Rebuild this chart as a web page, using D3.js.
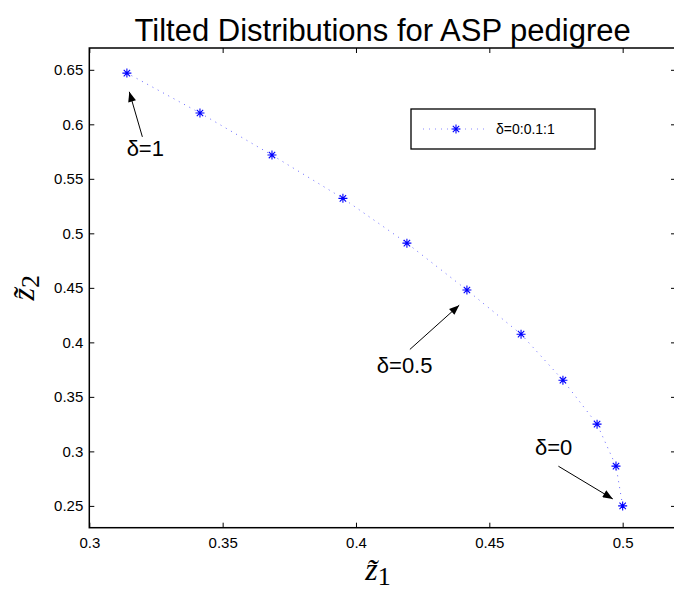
<!DOCTYPE html>
<html>
<head>
<meta charset="utf-8">
<script src="https://cdnjs.cloudflare.com/ajax/libs/d3/7.8.5/d3.min.js"></script>
<style>
  body { margin: 0; background: #fff; }
  svg { display: block; font-family: "Liberation Sans", Arial, Helvetica, sans-serif; }
</style>
</head>
<body>
<div id="graph"></div>
<script>
'use strict';

// tilt parameter delta = 0:0.1:1
const delta = [0, 0.1, 0.2, 0.3, 0.4, 0.5, 0.6, 0.7, 0.8, 0.9, 1];
const z1 = [0.500, 0.4975, 0.4904, 0.4776, 0.4619, 0.4416, 0.4191, 0.3951, 0.3685, 0.3415, 0.3141];
const z2 = [0.250, 0.2865, 0.325, 0.3653, 0.4075, 0.448, 0.491, 0.5321, 0.5718, 0.6104, 0.647];

const xTicks = [0.3, 0.35, 0.4, 0.45, 0.5];
const yTicks = [0.25, 0.3, 0.35, 0.4, 0.45, 0.5, 0.55, 0.6, 0.65];

// annotation arrows, in data units: text anchor, arrow tail, arrow head
const notes = [
    { label: 'δ=1',   tx: 0.314,  ty: 0.5705, x0: 0.3199, y0: 0.5885, x1: 0.3150, y1: 0.6298 },
    { label: 'δ=0.5', tx: 0.4078, ty: 0.3717, x0: 0.4202, y0: 0.3935, x1: 0.4387, y1: 0.4341 },
    { label: 'δ=0',   tx: 0.4671, ty: 0.2965, x0: 0.4759, y0: 0.2864, x1: 0.4963, y1: 0.2564 }
];

const measurements = { width: 674, height: 592 };
const plot = { left: 89.3, right: 676, top: 48, bottom: 527.7 };

const svg = d3.select('#graph')
    .append('svg')
    .attr('width', measurements.width)
    .attr('height', measurements.height);

const xScale = d3.scaleLinear().domain([0.3, 0.52]).range([plot.left, plot.right]);
const yScale = d3.scaleLinear().domain([0.23, 0.67]).range([plot.bottom, plot.top]);

const defs = svg.append('defs');
defs.append('marker')
    .attr('id', 'head')
    .attr('viewBox', '0 0 10 8')
    .attr('refX', 10)
    .attr('refY', 4)
    .attr('markerWidth', 11)
    .attr('markerHeight', 8)
    .attr('markerUnits', 'userSpaceOnUse')
    .attr('orient', 'auto')
    .append('path')
    .attr('d', 'M0,0L10,4L0,8Z')
    .attr('fill', '#000');

// axes: bottom/left with labels, top/right ticks only
const tickLen = 5;
const axisB = d3.axisBottom(xScale).tickValues(xTicks).tickSizeInner(-tickLen).tickSizeOuter(0).tickPadding(10)
    .tickFormat(d3.format('~g'));
const axisT = d3.axisTop(xScale).tickValues(xTicks).tickSizeInner(-tickLen).tickSizeOuter(0).tickFormat('');
const axisL = d3.axisLeft(yScale).tickValues(yTicks).tickSizeInner(-tickLen).tickSizeOuter(0).tickPadding(6)
    .tickFormat(d3.format('~g'));
const axisR = d3.axisRight(yScale).tickValues(yTicks).tickSizeInner(-tickLen).tickSizeOuter(0).tickFormat('');

function styleAxis(g) {
    g.select('.domain').remove();
    g.selectAll('line').attr('stroke', '#000').attr('stroke-width', 1);
    g.selectAll('text').attr('fill', '#000').style('font-size', '15px')
        .style('font-family', '"Liberation Sans", Arial, sans-serif');
}

svg.append('g').attr('transform', 'translate(0,' + plot.bottom + ')').call(axisB).call(styleAxis);
svg.append('g').attr('transform', 'translate(0,' + plot.top + ')').call(axisT).call(styleAxis);
svg.append('g').attr('transform', 'translate(' + plot.left + ',0)').call(axisL).call(styleAxis);
svg.append('g').attr('transform', 'translate(' + plot.right + ',0)').call(axisR).call(styleAxis);

// box
svg.append('rect')
    .attr('x', plot.left).attr('y', plot.top)
    .attr('width', plot.right - plot.left).attr('height', plot.bottom - plot.top)
    .attr('fill', 'none').attr('stroke', '#000').attr('stroke-width', 1.5);

// data
const pts = delta.map((d, i) => ({ d: d, x: z1[i], y: z2[i] }));

const line = d3.line().x(d => xScale(d.x)).y(d => yScale(d.y));
svg.append('path')
    .datum(pts)
    .attr('d', line)
    .attr('fill', 'none')
    .attr('stroke', '#6666ff')
    .attr('stroke-width', 1)
    .attr('stroke-dasharray', '1,5');

const star = 'M-4.5,0L4.5,0M0,-4.5L0,4.5M-3.2,-3.2L3.2,3.2M-3.2,3.2L3.2,-3.2';
svg.selectAll('.star')
    .data(pts)
    .enter()
    .append('path')
    .attr('class', 'star')
    .attr('transform', d => 'translate(' + xScale(d.x) + ',' + yScale(d.y) + ')')
    .attr('d', star)
    .attr('fill', 'none')
    .attr('stroke', '#0000ff')
    .attr('stroke-width', 1.1);

// annotations
svg.selectAll('.arrow')
    .data(notes)
    .enter()
    .append('line')
    .attr('class', 'arrow')
    .attr('x1', d => xScale(d.x0)).attr('y1', d => yScale(d.y0))
    .attr('x2', d => xScale(d.x1)).attr('y2', d => yScale(d.y1))
    .attr('stroke', '#000')
    .attr('stroke-width', 1)
    .attr('marker-end', 'url(#head)');

svg.selectAll('.note')
    .data(notes)
    .enter()
    .append('text')
    .attr('class', 'note')
    .attr('x', d => xScale(d.tx))
    .attr('y', d => yScale(d.ty))
    .style('font-size', '22px')
    .text(d => d.label);

// legend
const leg = svg.append('g');
leg.append('rect')
    .attr('x', 411).attr('y', 109)
    .attr('width', 184).attr('height', 40)
    .attr('fill', '#fff').attr('stroke', '#000').attr('stroke-width', 1.3);
leg.append('line')
    .attr('x1', 423).attr('x2', 486).attr('y1', 129).attr('y2', 129)
    .attr('stroke', '#8888ff').attr('stroke-width', 1).attr('stroke-dasharray', '1,5');
leg.append('path')
    .attr('transform', 'translate(456,129)')
    .attr('d', star)
    .attr('fill', 'none').attr('stroke', '#0000ff').attr('stroke-width', 1.1);
leg.append('text')
    .attr('x', 496).attr('y', 134)
    .style('font-size', '14px')
    .text('δ=0:0.1:1');

// title and axis labels
svg.append('text')
    .attr('x', (plot.left + plot.right) / 2)
    .attr('y', 41)
    .attr('text-anchor', 'middle')
    .style('font-size', '31px')
    .text('Tilted Distributions for ASP pedigree');

const xl = svg.append('text')
    .attr('x', 378)
    .attr('y', 580)
    .attr('text-anchor', 'middle')
    .style('font-family', '"Liberation Serif", "DejaVu Serif", serif')
    .style('font-size', '32px');
xl.append('tspan').style('font-style', 'italic').text('z\u0303');
xl.append('tspan').attr('dy', 5).style('font-size', '26px').text('1');

const yl = svg.append('text')
    .attr('transform', 'translate(34,' + ((plot.top + plot.bottom) / 2) + ')rotate(-90)')
    .attr('text-anchor', 'middle')
    .style('font-family', '"Liberation Serif", "DejaVu Serif", serif')
    .style('font-size', '32px');
yl.append('tspan').style('font-style', 'italic').text('z\u0303');
yl.append('tspan').attr('dy', 5).style('font-size', '26px').text('2');
</script>
</body>
</html>
